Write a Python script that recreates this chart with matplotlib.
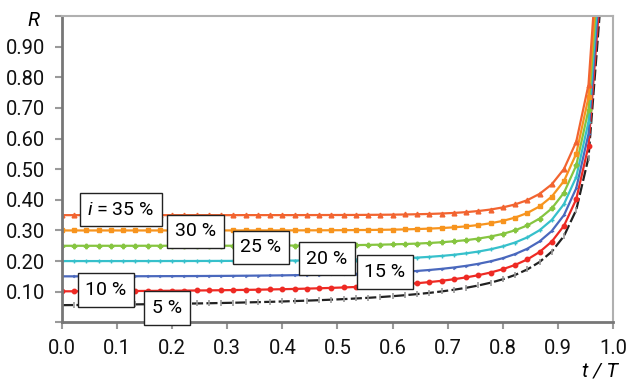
import matplotlib
matplotlib.use("Agg")
import matplotlib.pyplot as plt
from matplotlib import font_manager

# ---------------- data ----------------
T = 45
years = list(range(0, 45))          # t = 0 .. 44, plotted as t / T

r05 = [0.0563, 0.0566, 0.0570, 0.0574, 0.0578, 0.0583, 0.0588, 0.0593, 0.0598, 0.0604,
       0.0611, 0.0618, 0.0625, 0.0633, 0.0641, 0.0651, 0.0661, 0.0671, 0.0683, 0.0696,
       0.0710, 0.0725, 0.0741, 0.0760, 0.0780, 0.0802, 0.0827, 0.0855, 0.0887, 0.0923,
       0.0963, 0.1010, 0.1065, 0.1128, 0.1204, 0.1295, 0.1407, 0.1547, 0.1728, 0.1970,
       0.2310, 0.2820, 0.3672, 0.5378, 1.0500]
r10 = [0.1014, 0.1015, 0.1017, 0.1019, 0.1021, 0.1023, 0.1025, 0.1027, 0.1030, 0.1033,
       0.1037, 0.1041, 0.1045, 0.1050, 0.1055, 0.1061, 0.1067, 0.1075, 0.1083, 0.1092,
       0.1102, 0.1113, 0.1126, 0.1140, 0.1156, 0.1175, 0.1195, 0.1219, 0.1247, 0.1278,
       0.1315, 0.1357, 0.1408, 0.1468, 0.1540, 0.1627, 0.1736, 0.1874, 0.2054, 0.2296,
       0.2638, 0.3155, 0.4021, 0.5762, 1.1000]
r15 = [0.1503, 0.1503, 0.1504, 0.1504, 0.1505, 0.1506, 0.1506, 0.1507, 0.1509, 0.1510,
       0.1511, 0.1513, 0.1515, 0.1517, 0.1520, 0.1523, 0.1527, 0.1531, 0.1535, 0.1541,
       0.1547, 0.1554, 0.1563, 0.1573, 0.1584, 0.1598, 0.1613, 0.1632, 0.1654, 0.1679,
       0.1710, 0.1747, 0.1791, 0.1845, 0.1911, 0.1993, 0.2096, 0.2229, 0.2404, 0.2642,
       0.2983, 0.3503, 0.4380, 0.6151, 1.1500]
r20 = [0.2001, 0.2001, 0.2001, 0.2001, 0.2001, 0.2001, 0.2002, 0.2002, 0.2002, 0.2003,
       0.2003, 0.2004, 0.2005, 0.2006, 0.2007, 0.2008, 0.2010, 0.2012, 0.2015, 0.2018,
       0.2021, 0.2025, 0.2031, 0.2037, 0.2044, 0.2054, 0.2065, 0.2078, 0.2094, 0.2114,
       0.2139, 0.2169, 0.2206, 0.2253, 0.2311, 0.2385, 0.2481, 0.2606, 0.2774, 0.3007,
       0.3344, 0.3863, 0.4747, 0.6545, 1.2000]
r25 = [0.2500, 0.2500, 0.2500, 0.2500, 0.2500, 0.2500, 0.2500, 0.2501, 0.2501, 0.2501,
       0.2501, 0.2501, 0.2502, 0.2502, 0.2502, 0.2503, 0.2504, 0.2505, 0.2506, 0.2508,
       0.2509, 0.2512, 0.2515, 0.2519, 0.2523, 0.2529, 0.2537, 0.2546, 0.2558, 0.2572,
       0.2591, 0.2615, 0.2646, 0.2684, 0.2735, 0.2801, 0.2888, 0.3004, 0.3163, 0.3388,
       0.3718, 0.4234, 0.5123, 0.6944, 1.2500]
r30 = [0.3000, 0.3000, 0.3000, 0.3000, 0.3000, 0.3000, 0.3000, 0.3000, 0.3000, 0.3000,
       0.3000, 0.3000, 0.3001, 0.3001, 0.3001, 0.3001, 0.3002, 0.3002, 0.3003, 0.3003,
       0.3004, 0.3005, 0.3007, 0.3009, 0.3012, 0.3016, 0.3021, 0.3027, 0.3035, 0.3046,
       0.3060, 0.3078, 0.3102, 0.3134, 0.3177, 0.3235, 0.3312, 0.3419, 0.3569, 0.3784,
       0.4106, 0.4616, 0.5506, 0.7348, 1.3000]
r35 = [0.3500, 0.3500, 0.3500, 0.3500, 0.3500, 0.3500, 0.3500, 0.3500, 0.3500, 0.3500,
       0.3500, 0.3500, 0.3500, 0.3500, 0.3500, 0.3501, 0.3501, 0.3501, 0.3501, 0.3501,
       0.3502, 0.3503, 0.3504, 0.3505, 0.3506, 0.3509, 0.3512, 0.3516, 0.3521, 0.3529,
       0.3539, 0.3553, 0.3572, 0.3598, 0.3634, 0.3683, 0.3752, 0.3849, 0.3988, 0.4193,
       0.4505, 0.5008, 0.5896, 0.7756, 1.3500]

labels = ["5 %", "10 %", "15 %", "20 %", "25 %", "30 %", "$i$ = 35 %"]
x_ticks = [0.0, 0.1, 0.2, 0.3, 0.4, 0.5, 0.6, 0.7, 0.8, 0.9, 1.0]
y_ticks = [0.0, 0.1, 0.2, 0.3, 0.4, 0.5, 0.6, 0.7, 0.8, 0.9, 1.0]

# ---------------- style ----------------
names = {f.name for f in font_manager.fontManager.ttflist}
fam = [f for f in ["Liberation Sans Narrow", "Roboto", "DejaVu Sans"] if f in names]
plt.rcParams['font.family'] = fam
plt.rcParams['mathtext.fontset'] = 'custom'
plt.rcParams['mathtext.it'] = fam[0] + ':italic'
plt.rcParams['mathtext.rm'] = fam[0]

fig = plt.figure(figsize=(6.3, 3.8), dpi=100)
ax = fig.add_axes([0.0984, 0.1516, 0.8746, 0.8064])

x = [yr / T for yr in years]

series = [
    (r05, dict(color='#222222', ls=(0, (5, 1.5)), lw=1.6, marker='|', ms=5, mec='#9a9a9a', mew=1.2)),
    (r10, dict(color='#ee2a24', ls='-', lw=1.6, marker='o', ms=3.2, mec='#ee2a24')),
    (r15, dict(color='#4a68bd', ls='-', lw=1.6, marker='4', ms=2.5, mec='#4a68bd')),
    (r20, dict(color='#36c0cb', ls='-', lw=1.6, marker='+', ms=2.5, mec='#36c0cb')),
    (r25, dict(color='#86c540', ls='-', lw=1.6, marker='P', ms=3.2, mec='#86c540')),
    (r30, dict(color='#f7941e', ls='-', lw=1.6, marker='s', ms=3.2, mec='#f7941e')),
    (r35, dict(color='#f26430', ls='-', lw=1.6, marker='^', ms=3.4, mec='#f26430')),
]
for vals, kw in series:
    ax.plot(x, vals, **kw)

ax.set_xlim(0, 1.0)
ax.set_ylim(0, 1.0)
ax.set_xticks(x_ticks)
ax.set_xticklabels([f"{v:.1f}" for v in x_ticks])
ax.set_yticks(y_ticks)
ax.set_yticklabels(["" if (v == 0 or v == 1.0) else f"{v:.2f}" for v in y_ticks])
ax.tick_params(axis='both', labelsize=14.5, colors='#9a9a9a', labelcolor='#111111',
               length=5, width=1.5, direction='out')
ax.tick_params(axis='y', pad=7)
ax.tick_params(axis='x', pad=7)

for s in ['left', 'bottom']:
    ax.spines[s].set_color('#777777')
    ax.spines[s].set_linewidth(2)
for s in ['top', 'right']:
    ax.spines[s].set_color('#b0b0b0')
    ax.spines[s].set_linewidth(1.5)

# axis titles
fig.text(33 / 630, 1 - 21 / 380, "R", fontsize=14.5, style='italic', ha='center', va='center')
fig.text(600 / 630, 1 - 371 / 380, "t / T", fontsize=14.5, style='italic', ha='center', va='center')

# series labels
label_pos = [(0.191, 0.047), (0.080, 0.106), (0.586, 0.164), (0.481, 0.208),
             (0.361, 0.245), (0.242, 0.297), (0.107, 0.368)]
for (lx, ly), txt in zip(label_pos, labels):
    ax.text(lx, ly, txt, fontsize=14, ha='center', va='center', zorder=10,
            bbox=dict(boxstyle='square,pad=0.4', fc='white', ec='#222222', lw=1.0))

fig.savefig("out.png", dpi=100)
